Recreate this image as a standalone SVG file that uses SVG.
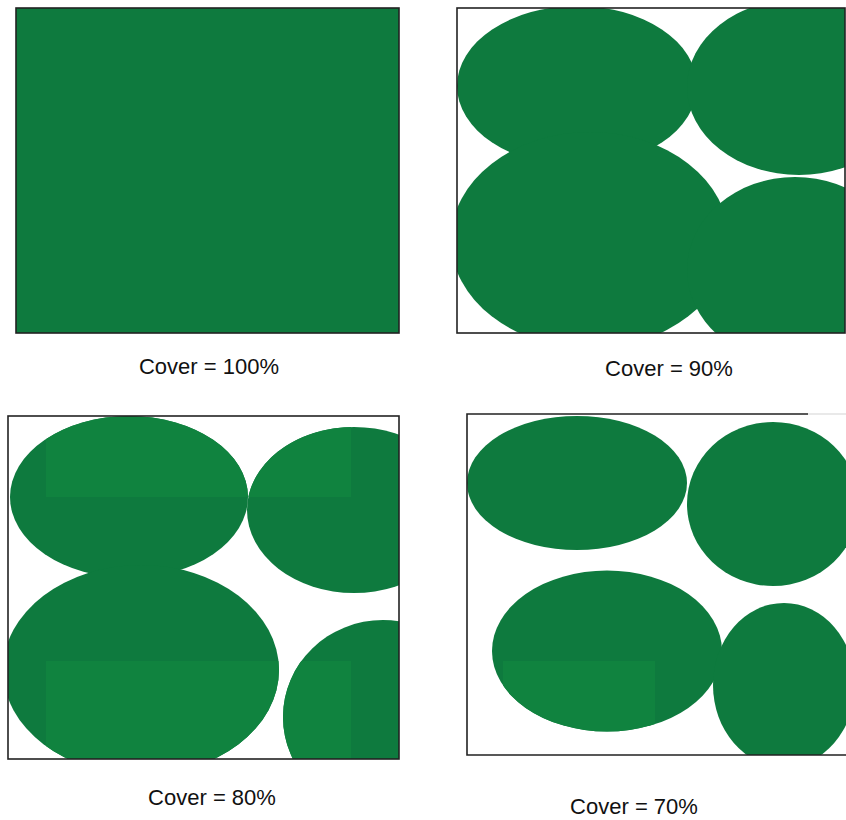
<svg xmlns="http://www.w3.org/2000/svg" width="846" height="820" viewBox="0 0 846 820">
  <style>
    .leaf { fill: #0e7a3e; }
    .lite { fill: #10833f; }
    .frame { fill: none; stroke: #222; stroke-width: 1.6; }
    .label { font-family: "Liberation Sans", Arial, Helvetica, sans-serif; font-size: 22px; fill: #111; text-anchor: middle; }
  </style>
  <defs>
    <clipPath id="clip2"><rect x="457" y="8" width="388" height="325"/></clipPath>
    <clipPath id="clip3"><rect x="8" y="416" width="391" height="343"/></clipPath>
    <clipPath id="clip4"><rect x="467" y="414" width="400" height="341"/></clipPath>
    <clipPath id="shapes3">
      <ellipse cx="129" cy="497" rx="119" ry="81"/>
      <ellipse cx="354" cy="510" rx="107" ry="83"/>
      <ellipse cx="141" cy="670" rx="138" ry="105"/>
      <ellipse cx="383" cy="717" rx="100" ry="97"/>
    </clipPath>
    <clipPath id="shapes4">
      <ellipse cx="607" cy="651" rx="115" ry="80.5"/>
    </clipPath>
  </defs>

  <g id="panel-100">
    <rect class="leaf" x="16" y="8" width="383" height="325"/>
    <rect class="frame" x="16" y="8" width="383" height="325"/>
    <text class="label" x="209" y="374">Cover = 100%</text>
  </g>

  <g id="panel-90">
    <g clip-path="url(#clip2)">
      <ellipse class="leaf" cx="577" cy="86" rx="120" ry="80"/>
      <ellipse class="leaf" cx="799" cy="87" rx="112" ry="88"/>
      <ellipse class="leaf" cx="590" cy="240" rx="139" ry="108"/>
      <ellipse class="leaf" cx="795" cy="270" rx="108" ry="93"/>
    </g>
    <rect class="frame" x="457" y="8" width="388" height="325"/>
    <text class="label" x="669" y="376">Cover = 90%</text>
  </g>

  <g id="panel-80">
    <g clip-path="url(#clip3)">
      <ellipse class="leaf" cx="129" cy="497" rx="119" ry="81"/>
      <ellipse class="leaf" cx="354" cy="510" rx="107" ry="83"/>
      <ellipse class="leaf" cx="141" cy="670" rx="138" ry="105"/>
      <ellipse class="leaf" cx="383" cy="717" rx="100" ry="97"/>
      <g clip-path="url(#shapes3)">
        <rect class="lite" x="46" y="416" width="305" height="81"/>
        <rect class="lite" x="46" y="661" width="305" height="98"/>
      </g>
    </g>
    <rect class="frame" x="8" y="416" width="391" height="343"/>
    <text class="label" x="212" y="805">Cover = 80%</text>
  </g>

  <g id="panel-70">
    <g clip-path="url(#clip4)">
      <ellipse class="leaf" cx="577" cy="483" rx="110" ry="67"/>
      <ellipse class="leaf" cx="773" cy="504" rx="86" ry="82"/>
      <ellipse class="leaf" cx="607" cy="651" rx="115" ry="80.5"/>
      <ellipse class="leaf" cx="784" cy="685" rx="71" ry="82"/>
      <g clip-path="url(#shapes4)">
        <rect class="lite" x="503" y="661" width="152" height="94"/>
      </g>
    </g>
    <path class="frame" d="M808 414 H467 V755 H846"/>
    <path d="M808 414 H846" fill="none" stroke="#d4d4d4" stroke-width="1.2"/>
    <text class="label" x="634" y="814">Cover = 70%</text>
  </g>
</svg>
